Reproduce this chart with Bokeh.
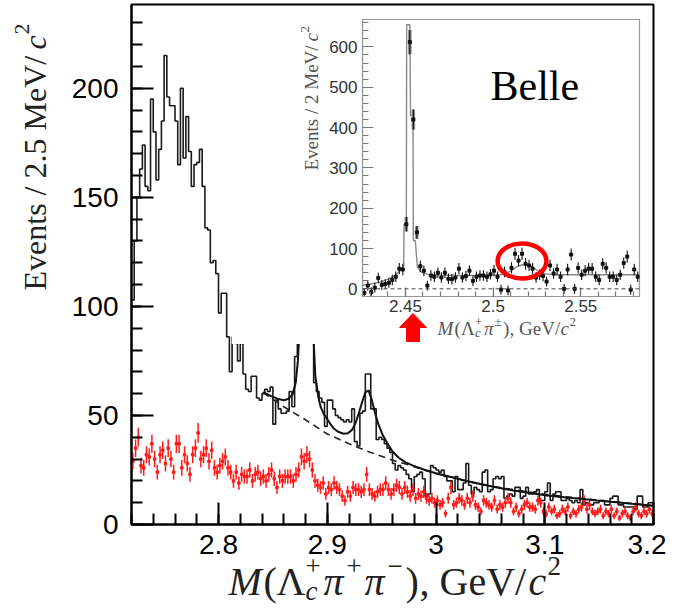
import numpy as np
from bokeh.plotting import figure
from bokeh.layouts import column
from bokeh.models import Range1d, SingleIntervalTicker, CustomJSTickFormatter, Label, Span
from bokeh.embed import file_html
from bokeh.resources import INLINE

# ---------------- main panel data: M(Lc pi+ pi-), 2.5 MeV bins from 2.72 ----------------
MAIN_BIN_LO = 2.72
MAIN_BIN_W = 0.0025
MAIN_COUNTS = [103, 130, 150, 163, 174, 155, 153, 195, 180, 158,
               172, 185, 215, 196, 192, 192, 185, 165, 200, 168,
               187, 171, 155, 165, 166, 172, 155, 136, 135, 120,
               121, 115, 97, 106, 106, 86, 70, 86, 83, 75,
               83, 69, 62, 61, 68, 68, 58, 57, 60, 62,
               61, 63, 46, 57, 53, 51, 51, 52, 61, 54,
               77, 95, 125, 160, 150, 120, 95, 65, 61, 58,
               56, 45, 57, 57, 53, 50, 49, 48, 47, 48,
               47, 53, 38, 36, 51, 52, 69, 69, 53, 53,
               39, 40, 39, 37, 35, 33, 28, 25, 27, 26,
               25, 23, 21, 15, 22, 23, 24, 21, 13, 14,
               27, 26, 25, 24, 25, 22, 20, 20, 15, 22,
               16, 16, 19, 28, 18, 14, 17, 16, 15, 24,
               25, 15, 16, 21, 22, 21, 22, 12, 13, 14,
               13, 17, 17, 12, 13, 17, 14, 14, 15, 16,
               11, 11, 15, 19, 11, 14, 15, 15, 11, 11,
               12, 11, 10, 11, 10, 16, 9, 10, 9, 9,
               10, 10, 11, 11, 9, 9, 12, 13, 13, 9,
               9, 8, 8, 8, 8, 7, 13, 13, 8, 8,
               10, 10]
RED_COUNTS = [29, 35, 40, 27, 26, 32, 31, 37, 30, 24,
              32, 34, 28, 35, 30, 24, 37, 37, 26, 32,
              28, 23, 32, 35, 42, 30, 32, 35, 29, 34,
              26, 24, 27, 29, 31, 26, 24, 20, 24, 19,
              23, 22, 22, 25, 20, 23, 24, 21, 22, 20,
              23, 25, 21, 17, 22, 20, 22, 22, 22, 20,
              23, 25, 31, 29, 32, 30, 25, 20, 18, 17,
              19, 14, 17, 16, 19, 17, 16, 13, 11, 15,
              13, 17, 16, 16, 15, 16, 23, 16, 14, 13,
              15, 16, 16, 19, 16, 14, 16, 18, 17, 14,
              17, 15, 13, 16, 12, 14, 13, 15, 12, 11,
              12, 10, 11, 9, 10, 5, 12, 17, 9, 10,
              12, 11, 9, 12, 10, 13, 9, 8, 6, 11,
              10, 9, 8, 11, 7, 9, 8, 10, 12, 10,
              6, 8, 5, 7, 9, 10, 8, 8, 7, 11,
              10, 6, 5, 8, 6, 7, 4, 5, 7, 6,
              8, 4, 6, 5, 7, 8, 11, 7, 9, 6,
              5, 6, 7, 4, 6, 5, 7, 4, 6, 3,
              5, 6, 4, 3, 6, 8, 5, 4, 6, 5,
              7, 5]
RED_ERR = [3.8, 4.0, 4.3, 3.6, 3.6, 3.9, 3.9, 4.2, 3.8, 3.4,
           3.9, 4.0, 3.7, 4.1, 3.8, 3.4, 4.2, 4.2, 3.6, 3.9,
           3.7, 3.4, 3.9, 4.1, 4.5, 3.8, 3.9, 4.1, 3.8, 4.0,
           3.6, 3.4, 3.6, 3.8, 3.9, 3.6, 3.4, 3.2, 3.4, 3.1,
           3.4, 3.3, 3.3, 3.5, 3.2, 3.4, 3.4, 3.3, 3.3, 3.2,
           3.4, 3.5, 3.3, 3.0, 3.3, 3.2, 3.3, 3.3, 3.3, 3.2,
           3.4, 3.5, 3.9, 3.8, 3.9, 3.8, 3.5, 3.2, 3.0, 3.0,
           3.1, 2.7, 3.0, 2.9, 3.1, 3.0, 2.9, 2.6, 2.4, 2.8,
           2.6, 3.0, 2.9, 2.9, 2.8, 2.9, 3.4, 2.9, 2.7, 2.6,
           2.8, 2.9, 2.9, 3.1, 2.9, 2.7, 2.9, 3.0, 3.0, 2.7,
           3.0, 2.8, 2.6, 2.9, 2.5, 2.7, 2.6, 2.8, 2.5, 2.4,
           2.5, 2.3, 2.4, 2.2, 2.3, 1.8, 2.5, 3.0, 2.2, 2.3,
           2.5, 2.4, 2.2, 2.5, 2.3, 2.6, 2.2, 2.1, 1.8, 2.4,
           2.3, 2.2, 2.1, 2.4, 2.0, 2.2, 2.1, 2.3, 2.5, 2.3,
           1.8, 2.1, 1.8, 2.0, 2.2, 2.3, 2.1, 2.1, 2.0, 2.4,
           2.3, 1.8, 1.8, 2.1, 1.8, 2.0, 1.6, 1.8, 2.0, 1.8,
           2.1, 1.6, 1.8, 1.8, 2.0, 2.1, 2.4, 2.0, 2.2, 1.8,
           1.8, 1.8, 2.0, 1.6, 1.8, 1.8, 2.0, 1.6, 1.8, 1.4,
           1.8, 1.8, 1.6, 1.4, 1.8, 2.1, 1.8, 1.6, 1.8, 1.8,
           2.0, 1.8]
FIT_X = [2.841, 2.848, 2.854, 2.860, 2.864, 2.868, 2.871, 2.873, 2.875, 2.877,
         2.879, 2.881, 2.883, 2.885, 2.887, 2.889, 2.892, 2.894, 2.897, 2.900,
         2.903, 2.906, 2.910, 2.915, 2.919, 2.923, 2.926, 2.929, 2.932, 2.935,
         2.938, 2.941, 2.944, 2.947, 2.951, 2.955, 2.960, 2.966, 2.972, 2.979,
         2.990, 3.000, 3.010, 3.025, 3.041, 3.056, 3.071, 3.087, 3.102, 3.118,
         3.133, 3.148, 3.163, 3.180, 3.200]
FIT_Y = [60.7, 59.0, 57.7, 57.0, 57.5, 59.5, 65.0, 75.0, 95.0, 130.0,
         170.0, 185.0, 170.0, 130.0, 90.0, 68.0, 58.0, 53.8, 50.5, 48.4,
         46.0, 44.0, 42.5, 41.6, 41.8, 43.5, 46.5, 51.0, 56.0, 60.5,
         61.5, 57.0, 51.0, 46.0, 41.0, 37.5, 33.5, 30.5, 28.5, 27.0,
         25.0, 23.5, 22.3, 20.3, 18.6, 17.0, 15.6, 14.4, 13.3, 12.5,
         11.8, 11.0, 10.3, 9.5, 8.6]
BKG_X = [2.841, 2.860, 2.880, 2.900, 2.920, 2.940, 2.960, 2.980, 3.000, 3.020,
         3.040, 3.060, 3.080, 3.100, 3.120, 3.140, 3.160, 3.180, 3.200]
BKG_Y = [60.5, 54.0, 48.0, 41.5, 37.0, 33.0, 29.5, 26.5, 23.3, 21.0,
         18.5, 16.8, 15.3, 13.9, 12.7, 11.6, 10.6, 9.6, 8.6]

# ---------------- inset data: M(Lc pi+-), 2 MeV bins ----------------
INSET_X0 = 2.4265
INSET_W = 0.002
INSET_Y = [-10, 8, -8, 3, 27, 10, 12, 15, 22, 30,
           50, 48, 160, 612, 420, 140, 56, 45, 8, 33,
           30, 40, 28, 40, 25, 24, 28, 50, 28, 32,
           45, 20, 30, 33, 33, 30, 36, 45, 30, -2,
           42, -4, 52, 87, 70, 87, 62, 58, 50, 28,
           35, 32, 18, 58, 38, 48, 30, 0, 48, 85,
           0, 52, 35, 45, 50, 50, 30, 22, 62, 52,
           30, 30, 22, 35, 64, 80, -2, 48, 30]
INSET_ERR = [12, 12, 12, 12, 13, 12, 12, 12, 13, 13,
             14, 14, 18, 30, 25, 16, 14, 13, 12, 13,
             13, 13, 13, 13, 13, 13, 13, 14, 13, 13,
             13, 13, 13, 13, 13, 13, 13, 14, 13, 12,
             13, 12, 14, 15, 14, 15, 14, 14, 14, 13,
             13, 13, 12, 14, 13, 14, 13, 12, 14, 15,
             12, 14, 13, 14, 14, 14, 13, 13, 14, 14,
             13, 13, 13, 13, 14, 15, 12, 14, 13]
INSET_PEAK_IDX = [12, 13, 14, 15]
INSET_FIT_X = [2.4255, 2.430, 2.435, 2.440, 2.444, 2.447, 2.4490, 2.4492, 2.4505, 2.4507,
               2.4525, 2.4529, 2.4543, 2.4545, 2.4556, 2.4568, 2.4587, 2.463, 2.470, 2.480,
               2.490, 2.500, 2.506, 2.510, 2.514, 2.518, 2.522, 2.526, 2.530, 2.535,
               2.550, 2.5835]
INSET_FIT_Y = [9, 12, 16, 24, 33, 45, 54, 160, 160, 655,
               655, 430, 430, 120, 120, 55, 42, 36, 34, 33,
               33, 34, 36, 44, 56, 61, 56, 43, 37, 35,
               35, 35]
SIGNAL_X, SIGNAL_Y = 2.5165, 69.0   # highlighted Sigma_c(2520) region

tick_fmt = CustomJSTickFormatter(code="return String(Math.round(tick*100)/100);")


def add_text(fig, x, y, pieces, color, angle=0.0):
    for txt, italic, size, adv, shift in pieces:
        if angle == 0:
            xo, yo = adv, shift
        else:
            xo, yo = -shift, adv
        fig.add_layout(Label(x=x, y=y, text=txt, x_offset=xo, y_offset=yo,
                             angle=angle, angle_units="deg",
                             text_font="Liberation Serif",
                             text_font_style="italic" if italic else "normal",
                             text_font_size=f"{size}px", text_color=color,
                             text_align="left", text_baseline="alphabetic"))


# ---------------- main figure ----------------
p = figure(width=666, height=611, x_range=Range1d(2.72, 3.2), y_range=Range1d(0, 238.4),
           output_backend="svg", toolbar_location=None,
           min_border_left=131, min_border_right=13, min_border_top=4, min_border_bottom=87)
p.margin = (0, 0, 0, 0)
p.grid.visible = False
p.outline_line_color = "black"
p.outline_line_width = 2
p.background_fill_color = "white"
p.border_fill_color = "white"
p.xaxis.ticker = SingleIntervalTicker(interval=0.1, num_minor_ticks=5)
p.yaxis.ticker = SingleIntervalTicker(interval=50, num_minor_ticks=5)
p.xaxis.formatter = tick_fmt
for ax in (p.xaxis[0], p.yaxis[0]):
    ax.axis_line_color = "black"
    ax.axis_line_width = 2
    ax.major_tick_in = 22
    ax.major_tick_out = 0
    ax.minor_tick_in = 11
    ax.minor_tick_out = 0
    ax.major_tick_line_color = "black"
    ax.major_tick_line_width = 2
    ax.minor_tick_line_color = "black"
    ax.minor_tick_line_width = 2
    ax.major_label_text_font = "Liberation Sans"
    ax.major_label_text_font_size = "28px"
    ax.major_label_text_color = "black"
p.yaxis.major_label_standoff = 13
p.xaxis.major_label_standoff = 10

nb = len(MAIN_COUNTS)
edges = MAIN_BIN_LO + MAIN_BIN_W * np.arange(nb + 1)
centers = MAIN_BIN_LO + MAIN_BIN_W * (np.arange(nb) + 0.5)
red = np.array(RED_COUNTS, dtype=float)
rerr = np.array(RED_ERR, dtype=float)

p.step(edges, list(MAIN_COUNTS) + [MAIN_COUNTS[-1]], mode="after",
       line_color="#1a1a1a", line_width=1.6)
p.segment(centers, red - rerr, centers, red + rerr, line_color="#ff1a1a", line_width=1.5)
p.scatter(centers, red, marker="square", size=2.5, color="#ff1a1a")
p.line(BKG_X, BKG_Y, line_color="#222222", line_width=1.6, line_dash="7 5")
p.line(FIT_X, FIT_Y, line_color="#111111", line_width=2)

# ---------------- inset figure (left border is aligned with the main one) ----------------
q = figure(width=421, height=333, x_range=Range1d(2.4255, 2.5835), y_range=Range1d(-19, 668),
           output_backend="svg", toolbar_location=None,
           min_border_left=131, min_border_right=13, min_border_top=8, min_border_bottom=48)
q.margin = (-600, 0, 0, 231)
q.grid.visible = False
q.outline_line_color = "#999999"
q.outline_line_width = 1.2
q.background_fill_color = "white"
q.border_fill_color = "white"
q.xaxis.ticker = SingleIntervalTicker(interval=0.05, num_minor_ticks=5)
q.yaxis.ticker = SingleIntervalTicker(interval=100, num_minor_ticks=5)
q.xaxis.formatter = tick_fmt
for ax in (q.xaxis[0], q.yaxis[0]):
    ax.axis_line_color = "#999999"
    ax.axis_line_width = 1.2
    ax.major_tick_out = 0
    ax.minor_tick_out = 0
    ax.major_tick_line_color = "#777777"
    ax.minor_tick_line_color = "#777777"
    ax.major_tick_line_width = 1.2
    ax.minor_tick_line_width = 1.2
    ax.major_label_text_font = "Liberation Sans"
    ax.major_label_text_font_size = "17px"
    ax.major_label_text_color = "#333333"
q.yaxis.major_tick_in = 11
q.yaxis.minor_tick_in = 6
q.xaxis.major_tick_in = 9
q.xaxis.minor_tick_in = 5
q.yaxis.major_label_standoff = 5
q.xaxis.major_label_standoff = 3

ni = len(INSET_Y)
ix = INSET_X0 + INSET_W * np.arange(ni)
iy = np.array(INSET_Y, dtype=float)
ie = np.array(INSET_ERR, dtype=float)
q.add_layout(Span(location=0, dimension="width", line_color="#444444",
                  line_width=1, line_dash="4 3"))
q.line(INSET_FIT_X, INSET_FIT_Y, line_color="#888888", line_width=1.4)
pk = np.array(INSET_PEAK_IDX)
q.segment(ix[pk], iy[pk] - ie[pk], ix[pk], iy[pk] + ie[pk], line_color="#8a8a8a", line_width=3.5)
q.segment(ix, iy - ie, ix, iy + ie, line_color="#111111", line_width=1.1)
q.scatter(ix, iy, marker="square", size=3, color="#111111")
q.ellipse(x=[SIGNAL_X], y=[SIGNAL_Y], width=0.0279, height=86.8,
          fill_alpha=0, line_color="#ff0000", line_width=4.5)
q.add_layout(Label(x=2.4985, y=501.9, text="Belle", text_font="Liberation Serif",
                   text_font_size="42px", text_color="black",
                   text_align="left", text_baseline="alphabetic"))

# ---------------- transparent overlay in page pixels for the axis titles and arrow ----------------
ov = figure(width=674, height=611, x_range=Range1d(0, 674), y_range=Range1d(0, 611),
            x_axis_type=None, y_axis_type=None, min_border=0, title=None,
            output_backend="svg", toolbar_location=None,
            styles={"position": "absolute", "left": "0px", "top": "0px"})
ov.outline_line_color = None
ov.background_fill_alpha = 0
ov.border_fill_alpha = 0
ov.grid.visible = False

add_text(ov, 34, 321, [("Events / 2.5 MeV/", False, 32, 0, 0),
                       ("c", True, 32, 241, 0),
                       ("2", False, 22, 256, 13)], "#222222", angle=90)
add_text(ov, 228, 30, [("M", True, 40, 0, 0), ("(", False, 40, 35, 0),
                       ("Λ", False, 40, 48, 0), ("c", True, 27, 77, -9),
                       ("+", False, 27, 77, 16), ("π", True, 40, 95, 0),
                       ("+", False, 27, 118, 16), ("π", True, 40, 136, 0),
                       ("−", False, 27, 159, 16), (")", False, 40, 177, 0),
                       (", GeV/", False, 40, 191, 0), ("c", True, 40, 300, 0),
                       ("2", False, 27, 319, 16)], "#222222")
add_text(ov, 311, 441, [("Events / 2 MeV/", False, 19, 0, 0),
                        ("c", True, 19, 129, 0),
                        ("2", False, 13, 138, 7)], "#555555", angle=90)
add_text(ov, 437, 283, [("M", True, 19, 0, 0), ("(", False, 19, 17, 0),
                        ("Λ", False, 19, 23.5, 0), ("c", True, 13, 37.5, -4),
                        ("+", False, 13, 37.5, 7), ("π", True, 19, 46.5, 0),
                        ("±", False, 13, 57, 7), (")", False, 19, 65.5, 0),
                        (", GeV/", False, 19, 72, 0), ("c", True, 19, 123, 0),
                        ("2", False, 13, 132, 7)], "#555555")
# red arrow under the inset pointing at the Sigma_c(2455) peak
ov.patch([412.5, 426, 419, 419, 406, 406, 399], [298, 284, 284, 270, 270, 284, 284],
         fill_color="#ff0000", line_color="#ff0000")

layout = column(p, q)
open("out.html", "w").write(file_html([layout, ov], INLINE))
